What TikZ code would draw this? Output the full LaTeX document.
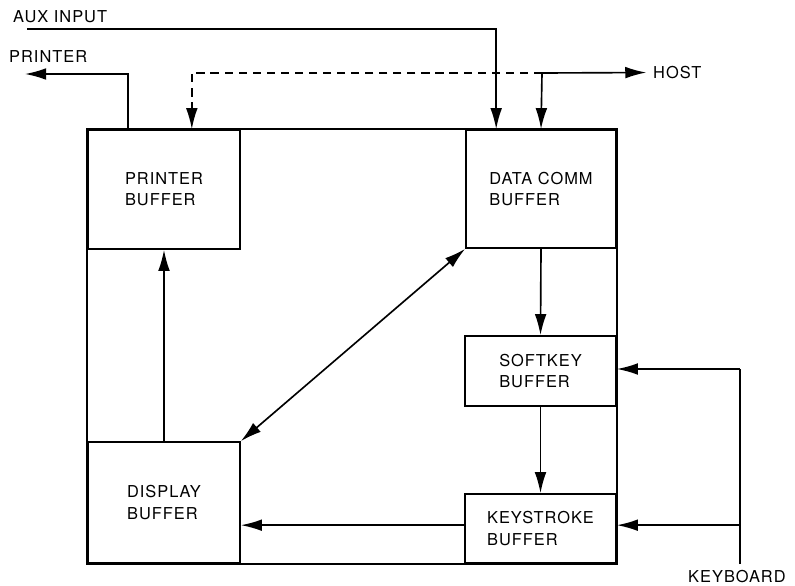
\documentclass[tikz,border=0pt]{standalone}
\usepackage{fontspec}
\setmainfont[LetterSpace=6]{TeX Gyre Heros}
\usetikzlibrary{arrows.meta}
\tikzset{
	buffer/.style={draw, line width=1.4pt, align=left, inner sep=0pt, font=\fontsize{14}{18}\selectfont},
	sidetext/.style={inner sep=0pt, font=\fontsize{14}{17}\selectfont},
	flow/.style={line width=1.4pt, -{Latex[length=18pt,width=10pt]}},
	wire/.style={line width=1.4pt},
}

\begin{document}
\begin{tikzpicture}[x=0.03cm, y=-0.03cm]
		\useasboundingbox (0,0) rectangle (795,585);

		\node[buffer, minimum width=4.56cm, minimum height=3.57cm] (prbuf) at (164,189.5) {PRINTER\\BUFFER};
		\node[buffer, minimum width=4.5cm, minimum height=3.54cm] (dcbuf) at (541,189) {DATA COMM\\BUFFER};
		\node[buffer, minimum width=4.53cm, minimum height=2.1cm] (skbuf) at (540.5,371) {SOFTKEY\\BUFFER};
		\node[buffer, minimum width=4.53cm, minimum height=2.07cm] (ksbuf) at (540.5,528.5) {KEYSTROKE\\BUFFER};
		\node[buffer, minimum width=4.56cm, minimum height=3.63cm] (dpbuf) at (164,502.5) {DISPLAY\\BUFFER};
		\draw[wire] (prbuf.north west) rectangle (ksbuf.south east);

		\node[sidetext, anchor=base west] (auxlabel) at (13,22) {AUX INPUT};
		\node[sidetext, anchor=base west] (prlabel) at (9,62) {PRINTER};
		\node[sidetext, anchor=base west] (hostlabel) at (653,78.5) {HOST};
		\node[sidetext, anchor=base west] (kblabel) at (688,582.5) {KEYBOARD};

		\coordinate (auxin) at (27,29);
		\coordinate (prout) at (25,74);
		\coordinate (hostj) at (542,73);
		\coordinate (kbtop) at (740,369);
		\coordinate (kbbot) at (740,564);

		\draw[flow] (auxin) -| ([xshift=0.93cm]dcbuf.north west);
		\draw[flow] ([xshift=1.23cm]prbuf.north west) |- (prout);
		\draw[flow] (hostj) -- ([xshift=-0.2cm]hostlabel.west);
		\draw[flow] (hostj) -- (dcbuf.north);
		\draw[flow, dash pattern=on 7pt off 5pt] (hostj) -| ([xshift=-1.47cm]prbuf.north east);

		\draw[flow] (dpbuf.north) -- (prbuf.south);
		\draw[flow, {Latex[length=18pt,width=10pt]}-{Latex[length=18pt,width=10pt]}] (dpbuf.north east) -- (dcbuf.south west);
		\draw[flow] (dcbuf.south) -- (skbuf.north);
		\draw[flow] (skbuf.south) -- (ksbuf.north);
		\draw[flow] ([yshift=0.1cm]ksbuf.west) -- ([yshift=0.1cm]ksbuf.west -| dpbuf.east);

		\draw[wire] (kbbot) -- (kbtop);
		\draw[flow] (kbtop) -- (kbtop -| skbuf.east);
		\draw[flow] ([yshift=0.1cm]kbbot |- ksbuf.east) -- ([yshift=0.1cm]ksbuf.east);
	\end{tikzpicture}
\end{document}
